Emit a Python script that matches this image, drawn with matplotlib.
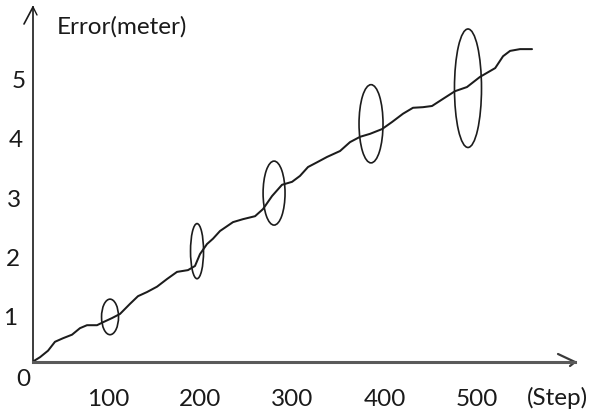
import matplotlib
matplotlib.use("Agg")
import matplotlib.pyplot as plt
import matplotlib.transforms as mtransforms
from matplotlib.patches import Ellipse

# ---- data ----
steps = [19, 26.3, 35.0, 42.5, 51.2, 61.0, 69.6, 77.2, 88.1, 94.6, 104.3, 113.0,
         123.8, 132.5, 142.3, 153.1, 164.0, 174.8, 186.7, 194.3, 199.7, 207.3,
         213.8, 221.4, 235.5, 246.3, 259.4, 268.0, 277.8, 288.6, 299.5, 308.1,
         316.8, 326.6, 337.4, 351.5, 362.3, 373.2, 384.0, 397.0, 407.9, 419.8,
         430.6, 441.4, 451.2, 463.1, 476.1, 489.1, 503.1, 519.7, 528.2, 535.8,
         546.6, 559.6]
error = [0.23, 0.30, 0.41, 0.56, 0.62, 0.68, 0.79, 0.84, 0.84, 0.89, 0.96, 1.03,
         1.20, 1.33, 1.40, 1.49, 1.62, 1.74, 1.77, 1.84, 2.04, 2.21,
         2.30, 2.43, 2.58, 2.63, 2.68, 2.80, 3.02, 3.21, 3.26, 3.36,
         3.51, 3.59, 3.68, 3.78, 3.93, 4.02, 4.07, 4.15, 4.27, 4.41,
         4.51, 4.52, 4.54, 4.66, 4.79, 4.86, 5.03, 5.18, 5.38, 5.47,
         5.50, 5.50]

# uncertainty ellipses: centre step, centre error, width (steps), height (meters)
ell_x = [102.2, 196.5, 280.0, 385.1, 490.2]
ell_y = [0.98, 2.09, 3.07, 4.24, 4.84]
ell_w = [18.4, 14.1, 23.8, 26.0, 29.3]
ell_h = [0.60, 0.93, 1.08, 1.32, 2.00]

x_ticks = [100, 200, 300, 400, 500]
x_labels = ["100", "200", "300", "400", "500"]
y_ticks = [1, 2, 3, 4, 5]
y_labels = ["1", "2", "3", "4", "5"]

# hand-drawn horizontal shifts of the y labels (pixels)
y_label_shift = [-7, -5, -4, -2, 1]

# ---- figure ----
plt.rcParams['font.family'] = ['Lato', 'DejaVu Sans']
TXT = "#1a1a1a"
FS = 17.5

fig = plt.figure(figsize=(5.96, 4.14), dpi=100)
ax = fig.add_axes([33/596, 51/414, 542/596, 355/414])
ax.set_xlim(18.7, 606.2)
ax.set_ylim(0.219, 6.211)

ax.plot(steps, error, color="#1c1c1c", lw=1.45, solid_capstyle="round",
        solid_joinstyle="round")
for cx, cy, w, h in zip(ell_x, ell_y, ell_w, ell_h):
    ax.add_patch(Ellipse((cx, cy), w, h, fill=False, ec="#1c1c1c", lw=1.2))

# axes lines
for s in ["top", "right"]:
    ax.spines[s].set_visible(False)
ax.spines["left"].set_color("#1a1a1a")
ax.spines["left"].set_linewidth(1.2)
ax.spines["bottom"].set_color("#5a5a5a")
ax.spines["bottom"].set_linewidth(2.2)

# arrow barbs (axes coordinates)
ax.plot([0.0, -9/542], [1.0, 1 - 17/355], color="#1a1a1a", lw=1.2,
        transform=ax.transAxes, clip_on=False, solid_capstyle="round")
ax.plot([0.0, 4/542], [1.0, 1 - 8/355], color="#1a1a1a", lw=1.0,
        transform=ax.transAxes, clip_on=False, solid_capstyle="round")
ax.plot([1.0, 1 - 17/542], [0.0, 8/355], color="#3a3a3a", lw=1.6,
        transform=ax.transAxes, clip_on=False, solid_capstyle="round")
ax.plot([1.0, 1 - 5/542], [0.0, -4/355], color="#3a3a3a", lw=1.6,
        transform=ax.transAxes, clip_on=False, solid_capstyle="round")

ax.set_xticks(x_ticks)
ax.set_xticklabels(x_labels)
ax.set_yticks(y_ticks)
ax.set_yticklabels(y_labels)
ax.tick_params(axis="both", length=0, labelsize=FS, labelcolor=TXT)
ax.tick_params(axis="x", pad=19)
ax.tick_params(axis="y", pad=6)

for lab, dx in zip(ax.get_yticklabels(), y_label_shift):
    off = mtransforms.ScaledTranslation(dx / 100, 0, fig.dpi_scale_trans)
    lab.set_transform(lab.get_transform() + off)

fig.text(23/596, 1 - 380/414, "0", ha="center", va="center", fontsize=FS, color=TXT)
fig.text(557/596, 1 - 398/414, "(Step)", ha="center", va="center", fontsize=FS, color=TXT)
fig.text(57/596, 1 - 27/414, "Error(meter)", ha="left", va="center", fontsize=FS, color=TXT)

fig.savefig("out.png", dpi=100, facecolor="white")
